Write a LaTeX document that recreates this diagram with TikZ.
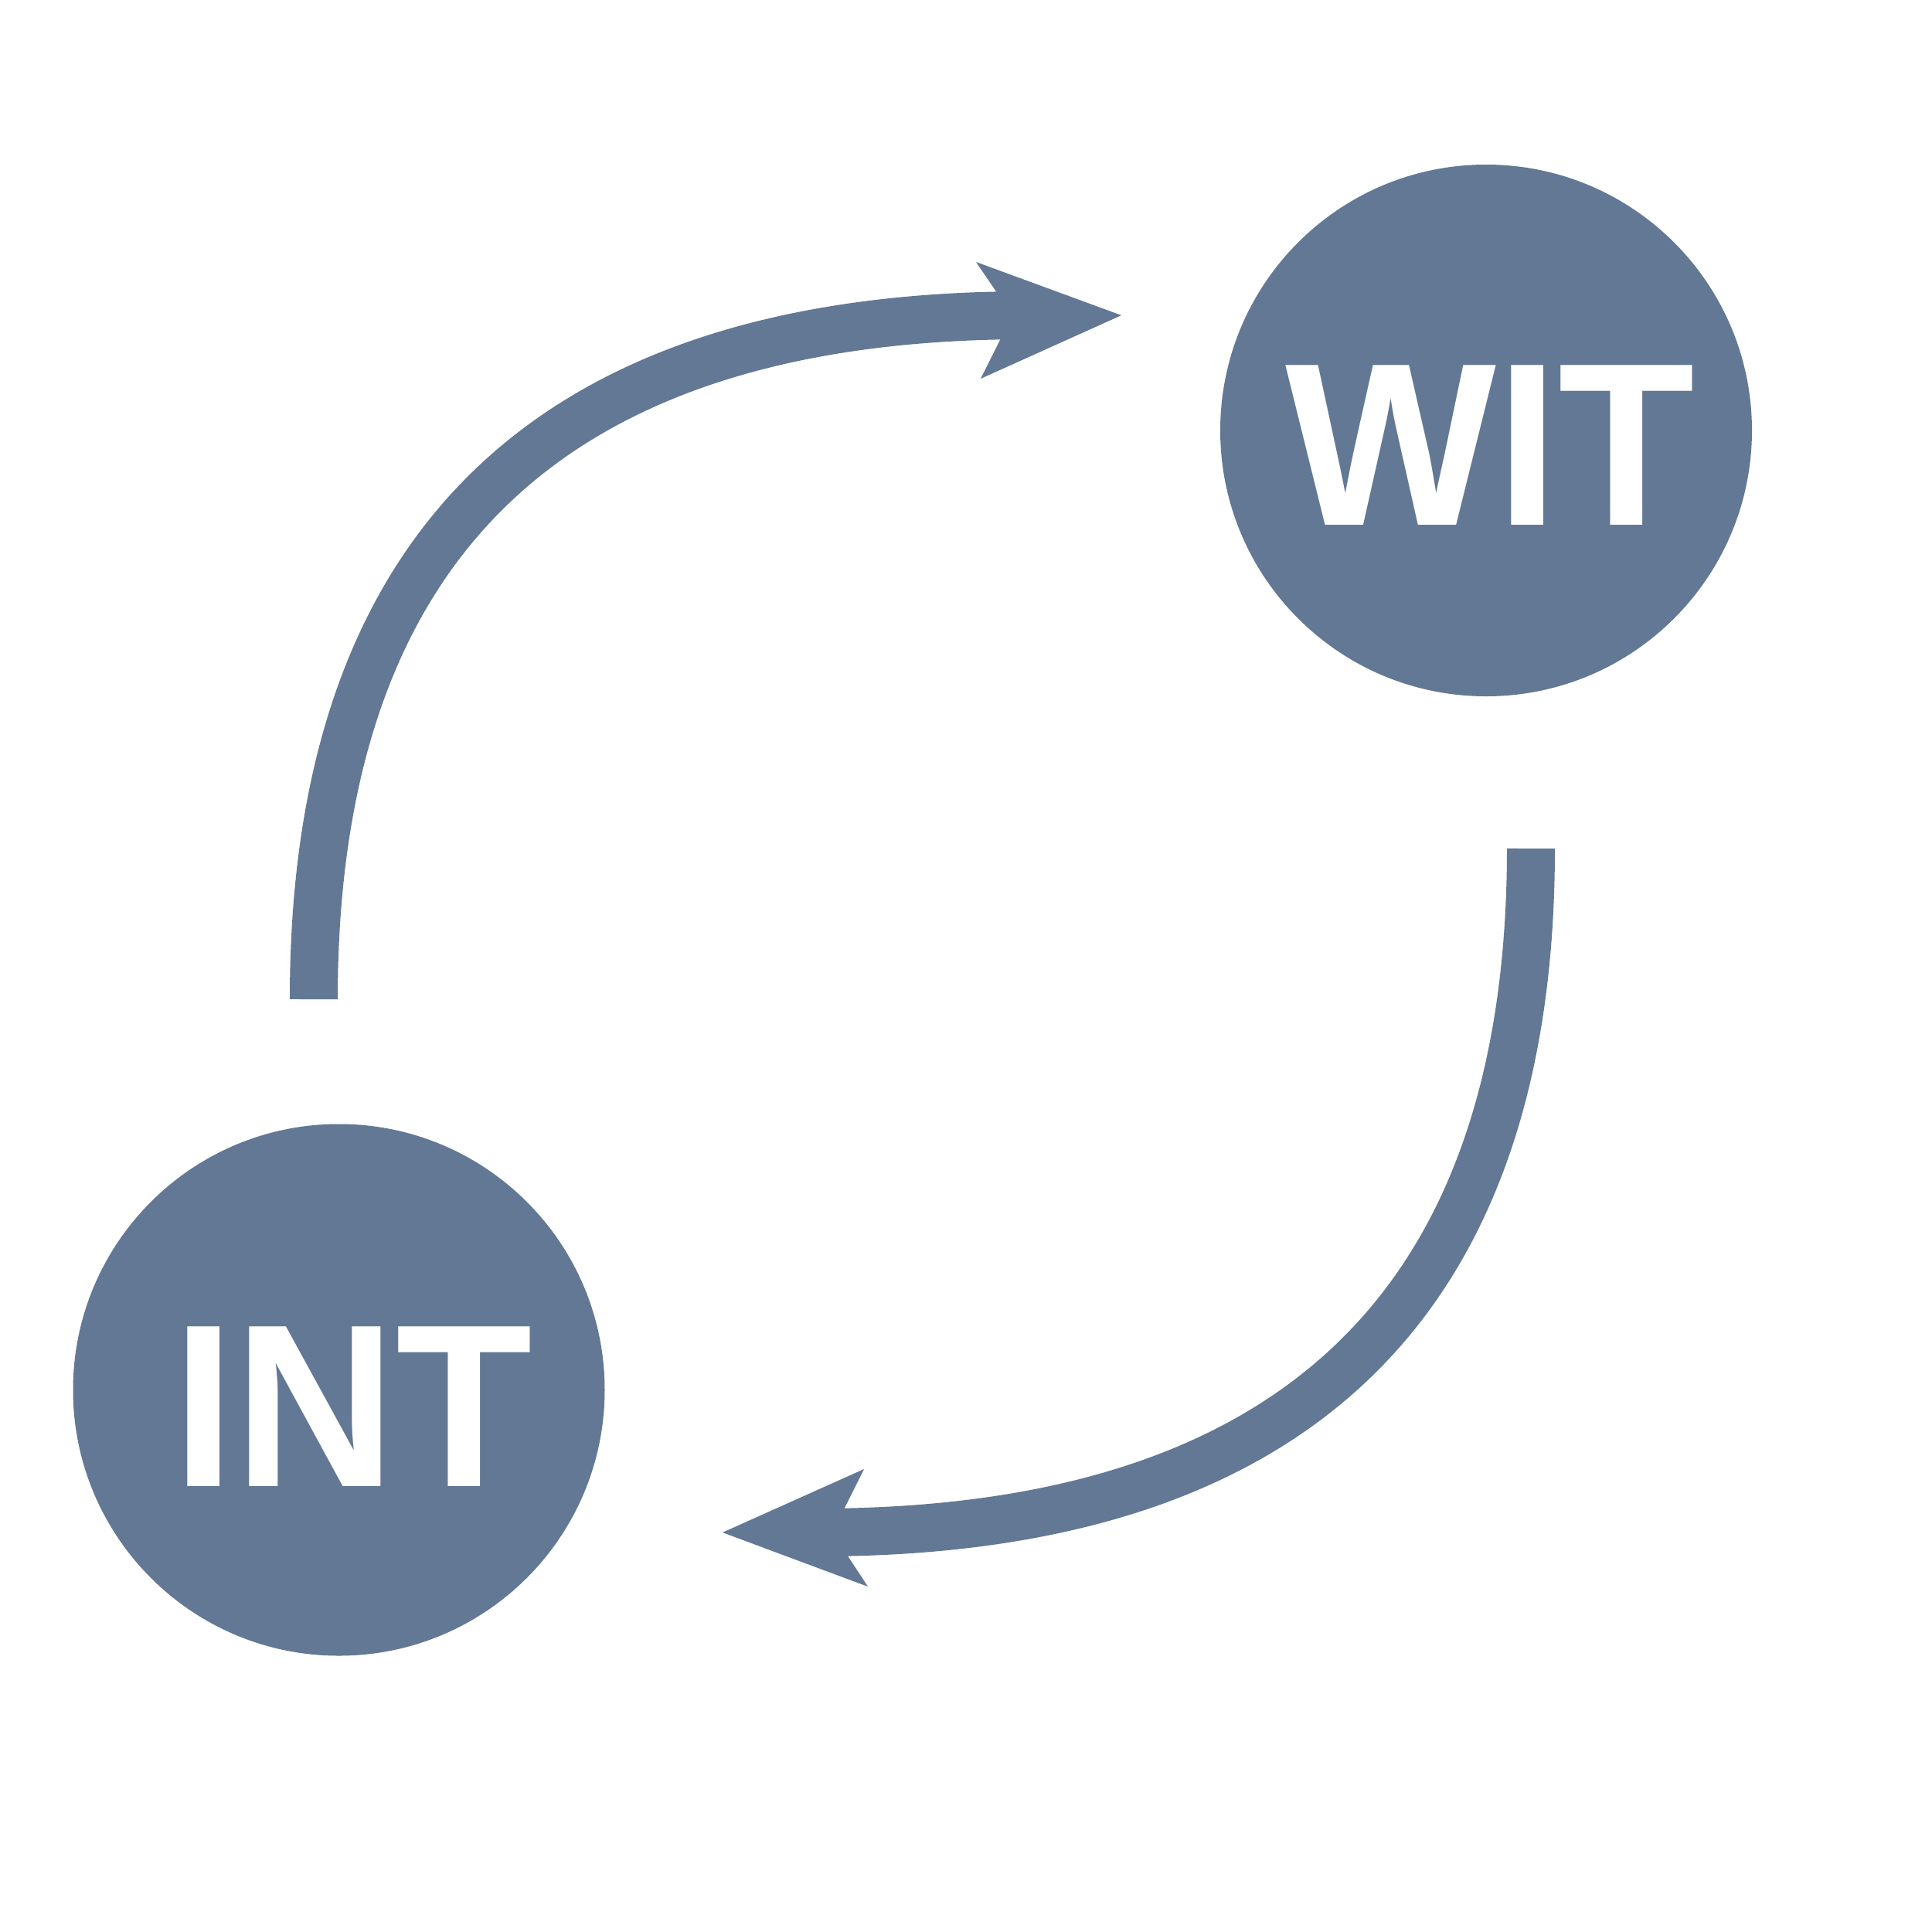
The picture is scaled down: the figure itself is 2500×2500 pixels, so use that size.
\documentclass[tikz,border=0pt]{standalone}
\usepackage{fontspec}
\usepackage{graphicx}
\setmainfont{Liberation Sans}
\definecolor{slate}{RGB}{98,120,149}
\begin{document}
\begin{tikzpicture}[x=0.1mm,y=-0.1mm,
  hub/.style={circle,fill=slate,draw=none,minimum size=68.8mm,inner sep=0pt},
  hubtext/.style={text=white,font=\bfseries\fontsize{85.5}{90}\selectfont,inner sep=0pt,anchor=base},
  flow/.style={draw=slate,line width=6.2mm},
  head/.style={fill=slate}]
\useasboundingbox (0,0) rectangle (2500,2500);
\fill[white] (0,0) rectangle (2500,2500);
% hubs
\node[hub] (WIT) at (1923,557) {};
\node[hub] (INT) at (438.5,1798.5) {};
\node[hubtext] (witlabel) at (1928,679) {\scalebox{0.962}[1]{WIT}};
\node[hubtext] (intlabel) at (456,1923) {\scalebox{0.962}[1]{INT}};
% arrow from INT side up to WIT
\coordinate (a1s) at (406,1293);
\coordinate (a1e) at (1330,408);
\draw[flow] (a1s) .. controls +(0,-587) and +(-620,0) .. (a1e);
\fill[head,shift={(a1e)}] (121,0) -- (-67,-69) -- (-20,0) -- (-61,82) -- cycle;
% arrow from WIT side down to INT
\coordinate (a2s) at (1981,1098);
\coordinate (a2e) at (1057,1983);
\draw[flow] (a2s) .. controls +(0,587) and +(620,0) .. (a2e);
\fill[head,shift={(a2e)}] (-122,0) -- (61,-82) -- (20,0) -- (66,70) -- cycle;
\end{tikzpicture}
\end{document}
